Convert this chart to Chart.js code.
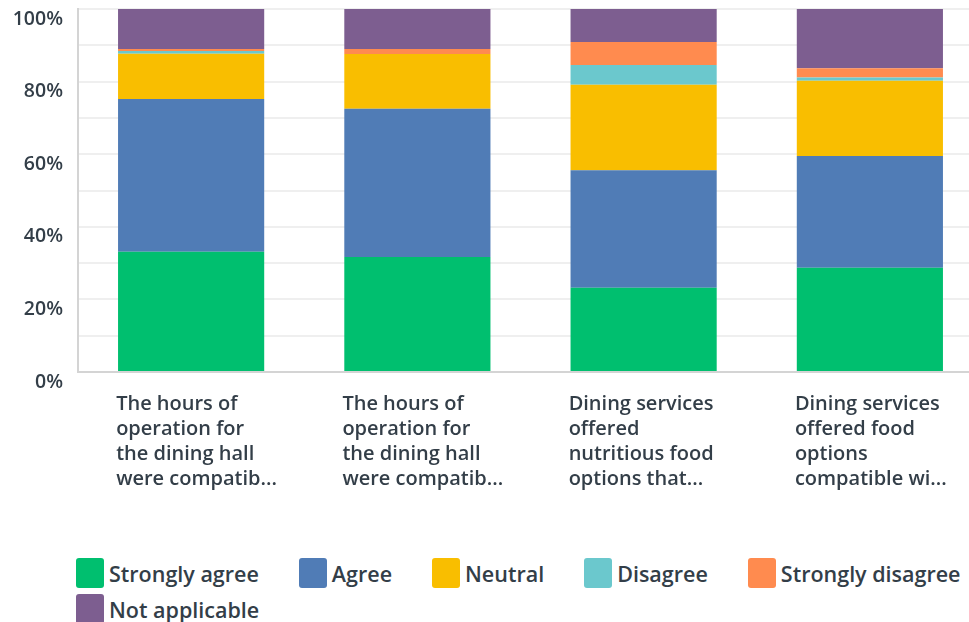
<!DOCTYPE html>
<html><head><meta charset="utf-8">
<script src="https://cdn.jsdelivr.net/npm/chart.js@4"></script>
<style>
html,body{margin:0;padding:0;background:#fff;overflow:hidden;width:969px;height:622px;}
#wrap{position:relative;width:969px;height:622px;overflow:hidden;}
canvas{position:absolute;left:0;top:0;}
#legend{position:absolute;left:76px;top:558px;width:893px;display:flex;flex-wrap:wrap;row-gap:6px;column-gap:40px;font-family:'Open Sans';font-weight:600;font-size:21.5px;color:#333E48;}
.item{display:flex;align-items:center;white-space:nowrap;height:30px;}
.box{width:28px;height:30px;border-radius:3px;margin-right:5px;flex:none;}
</style></head><body>
<div id="wrap"><canvas id="c" width="983" height="545"></canvas><div id="legend"></div></div>
<script>
const categories = [
  ['The hours of','operation for','the dining hall','were compatib...'],
  ['The hours of','operation for','the dining hall','were compatib...'],
  ['Dining services','offered','nutritious food','options that...'],
  ['Dining services','offered food','options','compatible wi...']
];
const seriesNames = ['Strongly agree','Agree','Neutral','Disagree','Strongly disagree','Not applicable'];
const stronglyAgree    = [33.1, 31.7, 23.2, 28.7];
const agree            = [42.1, 40.8, 32.4, 30.8];
const neutral          = [12.5, 15.1, 23.5, 20.7];
const disagree         = [0.7, 0.0, 5.5, 0.9];
const stronglyDisagree = [0.6, 1.4, 6.3, 2.6];
const notApplicable    = [11.0, 11.0, 9.1, 16.3];
const yTickValues = [0, 20, 40, 60, 80, 100];
const colors = ['#00BF6F','#507CB6','#F9BE00','#6BC8CD','#FF8B4F','#7D5E90'];

const seriesValues = [stronglyAgree, agree, neutral, disagree, stronglyDisagree, notApplicable];
const font = {family:'Open Sans', weight:600, size:20, lineHeight:'25px'};
function noPad(s){ s.paddingLeft = 0; s.paddingRight = 0; s.paddingTop = 0; s.paddingBottom = 0; }
const chart = new Chart(document.getElementById('c'), {
  type:'bar',
  data:{
    labels: categories,
    datasets: seriesNames.map((n,i)=>({label:n, data:seriesValues[i], backgroundColor:colors[i], borderWidth:0, barPercentage:0.646, categoryPercentage:1}))
  },
  options:{
    responsive:false, animation:false,
    layout:{autoPadding:false, padding:{top:9,right:0,bottom:53,left:0}},
    plugins:{legend:{display:false}, tooltip:{enabled:false}},
    scales:{
      x:{stacked:true, afterFit(s){ noPad(s); s.height = 120; },
         grid:{display:false, drawTicks:false}, border:{color:'#d4d4d4', width:2},
         ticks:{align:'start', labelOffset:-75, padding:20, maxRotation:0, minRotation:0, autoSkip:false, color:'#333E48', font:font}},
      y:{stacked:true, min:0, max:100, afterFit(s){ noPad(s); s.width = 78; },
         grid:{color:'#efefef', lineWidth:2, drawTicks:false}, border:{color:'#d4d4d4', width:2},
         ticks:{stepSize:10, padding:15, labelOffset:10, color:'#333E48', font:{family:'Open Sans', weight:600, size:19.5},
           callback:v => yTickValues.includes(v) ? v + '%' : ''}}
    }
  }
});
const lg = document.getElementById('legend');
chart.data.datasets.forEach(ds=>{
  const it = document.createElement('div'); it.className='item';
  const b = document.createElement('div'); b.className='box'; b.style.background = ds.backgroundColor;
  const t = document.createElement('span'); t.textContent = ds.label;
  it.appendChild(b); it.appendChild(t); lg.appendChild(it);
});
</script>
</body></html>
